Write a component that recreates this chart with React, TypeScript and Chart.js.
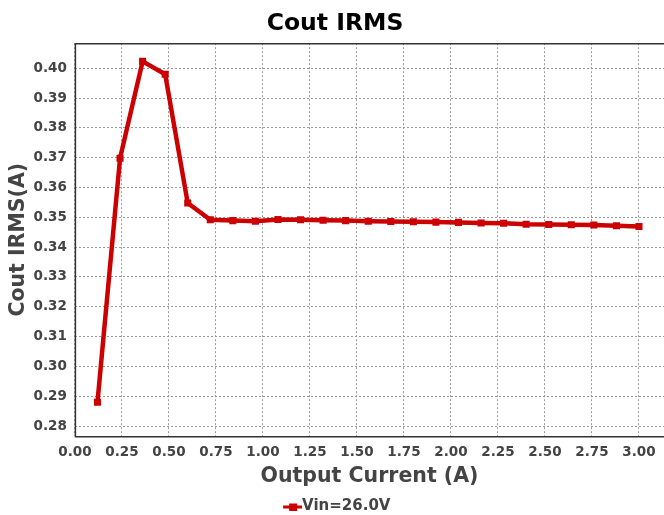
import React, { useEffect, useRef } from "react";
import { Chart, registerables } from "chart.js";

Chart.register(...registerables);

const xValues = [0.12, 0.24, 0.36, 0.48, 0.6, 0.72, 0.84, 0.96, 1.08, 1.2, 1.32, 1.44, 1.56, 1.68, 1.8, 1.92, 2.04, 2.16, 2.28, 2.4, 2.52, 2.64, 2.76, 2.88, 3.0];
const yValues = [0.288, 0.3698, 0.4023, 0.398, 0.3548, 0.3492, 0.3489, 0.3487, 0.3493, 0.3492, 0.349, 0.3489, 0.3487, 0.3486, 0.3485, 0.3484, 0.3483, 0.3481, 0.348, 0.3477, 0.3476, 0.3475, 0.3474, 0.3472, 0.3469];
const seriesLabel = "Vin=26.0V";
const titleText = "Cout IRMS";
const xTitle = "Output Current (A)";
const yTitle = "Cout IRMS(A)";

const RED = "rgb(204,0,0)";
const FONT = "'DejaVu Sans', sans-serif";

function legendIcon(): HTMLCanvasElement {
  const c = document.createElement("canvas");
  c.width = 30;
  c.height = 8;
  const g = c.getContext("2d")!;
  g.fillStyle = RED;
  g.fillRect(11, 3, 19, 3);
  g.fillRect(17, 1, 8, 7);
  return c;
}

const borderPlugin = {
  id: "frameBorder",
  afterDatasetsDraw(chart: any) {
    const { ctx, chartArea } = chart;
    const { left, right, top, bottom } = chartArea;
    ctx.save();
    ctx.strokeStyle = "#333";
    ctx.lineWidth = 1.5;
    ctx.beginPath();
    ctx.moveTo(right, top + 0.5);
    ctx.lineTo(left + 0.5, top + 0.5);
    ctx.lineTo(left + 0.5, bottom + 0.5);
    ctx.lineTo(right, bottom + 0.5);
    ctx.stroke();
    ctx.restore();
  },
};

export default function App() {
  const ref = useRef<HTMLCanvasElement>(null);
  useEffect(() => {
    if (!ref.current) return;
    const chart = new Chart(ref.current, {
      type: "line",
      data: {
        datasets: [
          {
            label: seriesLabel,
            data: xValues.map((x, i) => ({ x, y: yValues[i] })),
            borderColor: RED,
            backgroundColor: RED,
            borderWidth: 4.5,
            pointStyle: "rect",
            pointRadius: 5,
            pointHoverRadius: 5,
            pointBackgroundColor: RED,
            pointBorderColor: RED,
            pointBorderWidth: 0,
            tension: 0,
          },
        ],
      },
      options: {
        animation: false,
        responsive: false,
        layout: { autoPadding: false, padding: { left: 6, right: 0, top: 0, bottom: -9 } },
        plugins: {
          title: {
            display: true,
            text: titleText,
            color: "#000",
            font: { family: FONT, size: 23.5, weight: "bold" },
            padding: { top: 10, bottom: 5 },
          },
          legend: {
            position: "bottom",
            labels: {
              usePointStyle: true,
              pointStyle: legendIcon() as any,
              color: "#444",
              font: { family: FONT, size: 15, weight: "bold" },
              padding: 4,
            },
          },
          tooltip: { enabled: false },
        },
        scales: {
          x: {
            type: "linear",
            min: 0,
            max: 3.133,
            afterFit: (s: any) => {
              s.paddingRight = 0;
            },
            grid: { color: "#9a9a9a", drawTicks: false } as any,
            border: { display: false, dash: [2, 2] },
            ticks: {
              stepSize: 0.25,
              includeBounds: false,
              padding: 8,
              color: "#444",
              font: { family: FONT, size: 13.5, weight: "bold" },
              callback: (v: any) => Number(v).toFixed(2),
              maxRotation: 0,
            },
            title: {
              display: true,
              text: xTitle,
              color: "#444",
              font: { family: FONT, size: 20.5, weight: "bold" },
              padding: { top: -4, bottom: 6 },
            },
          },
          y: {
            type: "linear",
            min: 0.2766,
            max: 0.4084,
            grid: { color: "#9a9a9a", drawTicks: false } as any,
            border: { display: false, dash: [2, 2] },
            ticks: {
              stepSize: 0.01,
              includeBounds: false,
              padding: 8,
              color: "#444",
              font: { family: FONT, size: 13.5, weight: "bold" },
              callback: (v: any) => Number(v).toFixed(2),
            },
            title: {
              display: true,
              text: yTitle,
              color: "#444",
              font: { family: FONT, size: 20.5, weight: "bold" },
              padding: { top: 0, bottom: -5 },
            },
          },
        },
      },
      plugins: [borderPlugin],
    });
    return () => chart.destroy();
  }, []);
  return (
    <div style={{ position: "fixed", left: 0, top: 0, width: 664, height: 515, background: "#fff" }}>
      <canvas ref={ref} width={664} height={515} style={{ width: 664, height: 515 }} />
    </div>
  );
}
